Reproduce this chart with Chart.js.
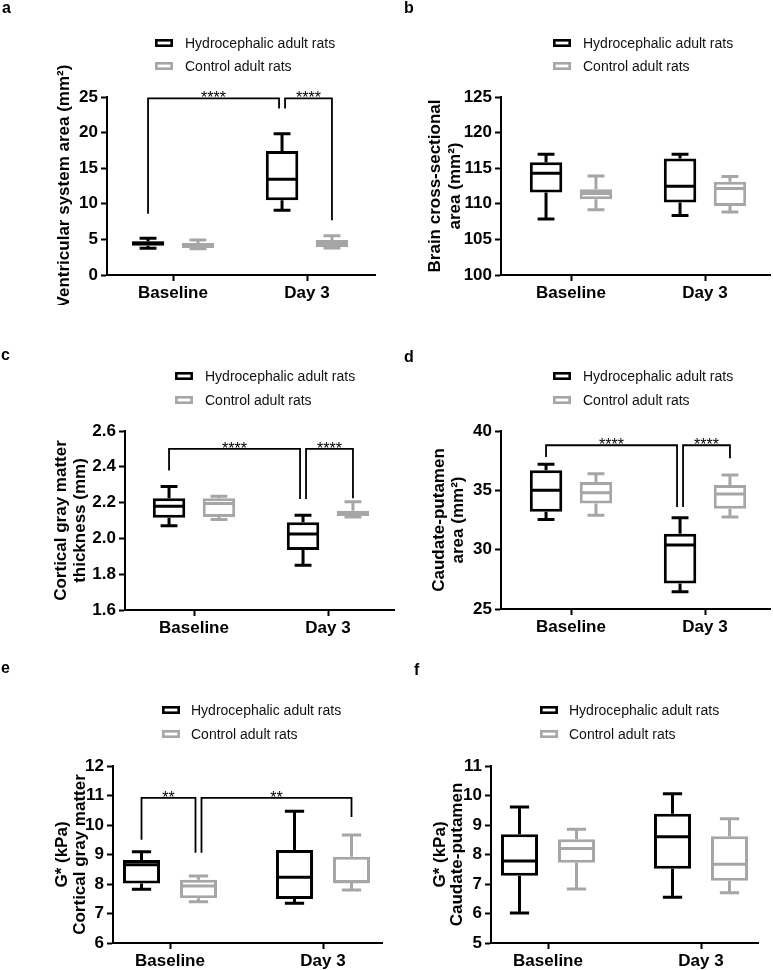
<!DOCTYPE html>
<html><head><meta charset="utf-8">
<script src="https://cdn.jsdelivr.net/npm/chart.js@4.4.1/dist/chart.umd.min.js"></script>
<style>
html,body{margin:0;padding:0;background:#fff;overflow:hidden;width:773px;height:970px;position:relative;}
canvas{position:absolute;}
</style></head><body>
<script>
// ---------------- DATA ----------------
const groups = ['Baseline', 'Day 3'];
const seriesNames = ['Hydrocephalic adult rats', 'Control adult rats'];
// each entry: [min, q1, median, q3, max] for Baseline, Day 3
const aHydro   = [[3.75, 4.1, 4.45, 4.75, 5.15], [9.1, 10.5, 13.45, 17.4, 19.85]];
const aControl = [[3.7, 3.8, 4.15, 4.5, 4.9], [3.8, 3.9, 4.4, 4.9, 5.5]];
const bHydro   = [[107.85, 111.6, 114.3, 115.85, 116.95], [108.35, 110.2, 112.45, 116.35, 116.95]];
const bControl = [[109.15, 110.65, 111.45, 112.05, 113.9], [108.85, 109.7, 112.15, 113.1, 113.85]];
const cHydro   = [[2.07, 2.115, 2.18, 2.225, 2.29], [1.85, 1.935, 2.025, 2.09, 2.13]];
const cControl = [[2.105, 2.12, 2.195, 2.225, 2.235], [2.12, 2.125, 2.14, 2.155, 2.205]];
const dHydro   = [[32.55, 33.2, 35.0, 36.7, 37.2], [26.45, 27.15, 30.4, 31.35, 32.7]];
const dControl = [[32.9, 33.9, 34.8, 35.7, 36.4], [32.75, 33.45, 34.7, 35.45, 36.3]];
const eHydro   = [[7.82, 8.02, 8.65, 8.81, 9.09], [7.35, 7.49, 8.23, 9.15, 10.47]];
const eControl = [[7.4, 7.52, 7.93, 8.14, 8.27], [7.8, 8.03, 8.08, 8.92, 9.66]];
const fHydro   = [[6.02, 7.28, 7.78, 8.69, 9.61], [6.55, 7.52, 8.6, 9.38, 10.06]];
const fControl = [[6.83, 7.72, 8.2, 8.52, 8.86], [6.7, 7.11, 7.67, 8.62, 9.21]];

const aTicks = [0, 5, 10, 15, 20, 25];
const bTicks = [100, 105, 110, 115, 120, 125];
const cTicks = [1.6, 1.8, 2.0, 2.2, 2.4, 2.6];
const dTicks = [25, 30, 35, 40];
const eTicks = [6, 7, 8, 9, 10, 11, 12];
const fTicks = [5, 6, 7, 8, 9, 10, 11];

const aTitle = ['Ventricular system area (mm²)'];
const bTitle = ['Brain cross-sectional', 'area (mm²)'];
const cTitle = ['Cortical gray matter', 'thickness (mm)'];
const dTitle = ['Caudate-putamen', 'area (mm²)'];
const eTitle = ['G* (kPa)', 'Cortical gray matter'];
const fTitle = ['G* (kPa)', 'Caudate-putamen'];

// significance brackets: from/to = [groupIndex, seriesIndex]; top & leg ends in data units
const aBrackets = [
  {from: [0, 0], to: [1, 0], top: 24.8, ends: [8.6, 23.4], label: '****'},
  {from: [1, 0], to: [1, 1], top: 24.8, ends: [23.4, 7.7], label: '****'}
];
const bBrackets = [];
const cBrackets = [
  {from: [0, 0], to: [1, 0], top: 2.5, ends: [2.38, 2.22], label: '****'},
  {from: [1, 0], to: [1, 1], top: 2.5, ends: [2.22, 2.225], label: '****'}
];
const dBrackets = [
  {from: [0, 0], to: [1, 0], top: 38.8, ends: [37.8, 33.6], label: '****'},
  {from: [1, 0], to: [1, 1], top: 38.8, ends: [33.6, 37.7], label: '****'}
];
const eBrackets = [
  {from: [0, 0], to: [0, 1], top: 10.92, ends: [9.5, 9.06], label: '**'},
  {from: [0, 1], to: [1, 1], top: 10.92, ends: [9.06, 10.27], label: '**'}
];
const fBrackets = [];

// ---------------- STYLE / LAYOUT ----------------
const FONT = "'Liberation Sans', Arial, Helvetica, sans-serif";
const COLORS = ['#000000', '#a6a6a6'];

const panels = [
  {letter: 'a', left: 0, top: 0, w: 400, h: 305, axisX: 107, topY: 97, botY: 275, endX: 375, t0: 173, t1: 307,
   titleX: [64], letterPos: [2, 13], legend: {bx: 155, tx: 185, y: [43, 66]},
   series: [aHydro, aControl], ticks: aTicks, title: aTitle, brackets: aBrackets, dec: 0},
  {letter: 'b', left: 386, top: 0, w: 387, h: 305, axisX: 115, topY: 97, botY: 275, endX: 384, t0: 185, t1: 319,
   titleX: [49, 69], letterPos: [18, 13], legend: {bx: 167, tx: 197, y: [43, 66]},
   series: [bHydro, bControl], ticks: bTicks, title: bTitle, brackets: bBrackets, dec: 0},
  {letter: 'c', left: 0, top: 300, w: 400, h: 340, axisX: 125, topY: 131, botY: 310, endX: 394, t0: 194, t1: 328,
   titleX: [61, 80], letterPos: [1, 60], legend: {bx: 175, tx: 205, y: [76, 100]},
   series: [cHydro, cControl], ticks: cTicks, title: cTitle, brackets: cBrackets, dec: 1},
  {letter: 'd', left: 386, top: 300, w: 387, h: 339, axisX: 115, topY: 131, botY: 309, endX: 384, t0: 185, t1: 319,
   titleX: [53, 72], letterPos: [18, 62], legend: {bx: 167, tx: 197, y: [76, 100]},
   series: [dHydro, dControl], ticks: dTicks, title: dTitle, brackets: dBrackets, dec: 0},
  {letter: 'e', left: 0, top: 620, w: 400, h: 353, axisX: 113, topY: 146, botY: 323, endX: 382, t0: 170, t1: 323,
   titleX: [62, 80], letterPos: [1, 53], legend: {bx: 162, tx: 191, y: [90, 114]},
   series: [eHydro, eControl], ticks: eTicks, title: eTitle, brackets: eBrackets, dec: 0},
  {letter: 'f', left: 386, top: 620, w: 387, h: 353, axisX: 105, topY: 146, botY: 323, endX: 372, t0: 162, t1: 315,
   titleX: [54, 71], letterPos: [28, 55], legend: {bx: 154, tx: 183, y: [90, 114]},
   series: [fHydro, fControl], ticks: fTicks, title: fTitle, brackets: fBrackets, dec: 0}
];

// ---------------- PLUGINS ----------------
const boxPlugin = {
  id: 'boxWhiskers',
  afterDatasetsDraw(chart) {
    const ctx = chart.ctx, ys = chart.scales.y;
    chart.data.datasets.forEach((ds, di) => {
      const meta = chart.getDatasetMeta(di);
      meta.data.forEach((el, i) => {
        const s = ds.stats[i];
        const x = el.x, w = el.width, half = w / 2 - 1.5, cap = w * 0.26;
        const py = v => ys.getPixelForValue(v);
        ctx.save();
        ctx.strokeStyle = ds.borderColor;
        ctx.lineWidth = 3;
        ctx.lineCap = 'butt';
        ctx.beginPath();
        ctx.moveTo(x, py(s[3])); ctx.lineTo(x, py(s[4]));
        ctx.moveTo(x, py(s[1])); ctx.lineTo(x, py(s[0]));
        ctx.moveTo(x - cap, py(s[4])); ctx.lineTo(x + cap, py(s[4]));
        ctx.moveTo(x - cap, py(s[0])); ctx.lineTo(x + cap, py(s[0]));
        ctx.moveTo(x - half, py(s[2])); ctx.lineTo(x + half, py(s[2]));
        ctx.stroke();
        ctx.restore();
      });
    });
  }
};

const decorPlugin = {
  id: 'decor',
  afterDraw(chart) {
    const p = chart.options.plugins.decor;
    const ctx = chart.ctx, ys = chart.scales.y, ca = chart.chartArea;
    ctx.save();
    // brackets
    const same = (u, v) => u[0] === v[0] && u[1] === v[1];
    const boxX = (ref) => chart.getDatasetMeta(ref[1]).data[ref[0]].x;
    p.brackets.forEach((b, bi) => {
      let x1 = boxX(b.from), x2 = boxX(b.to);
      if (p.brackets.some((o, oi) => oi !== bi && same(o.from, b.to))) x2 -= 3;
      if (p.brackets.some((o, oi) => oi !== bi && same(o.to, b.from))) x1 += 3;
      const yt = ys.getPixelForValue(b.top);
      ctx.strokeStyle = '#000';
      ctx.lineWidth = 1.8;
      ctx.beginPath();
      ctx.moveTo(x1, ys.getPixelForValue(b.ends[0]));
      ctx.lineTo(x1, yt);
      ctx.lineTo(x2, yt);
      ctx.lineTo(x2, ys.getPixelForValue(b.ends[1]));
      ctx.stroke();
      ctx.fillStyle = '#000';
      ctx.font = '16px ' + FONT;
      ctx.textAlign = 'center';
      ctx.textBaseline = 'alphabetic';
      ctx.fillText(b.label, (x1 + x2) / 2, yt + 5);
    });
    // axis title (rotated)
    ctx.fillStyle = '#000';
    ctx.font = 'bold 17px ' + FONT;
    ctx.textAlign = 'center';
    ctx.textBaseline = 'middle';
    const cy = (ca.top + ca.bottom) / 2;
    p.title.forEach((line, li) => {
      ctx.save();
      ctx.translate(p.titleX[li], cy);
      ctx.rotate(-Math.PI / 2);
      ctx.fillText(line, 0, 0);
      ctx.restore();
    });
    // legend
    ctx.font = '14px ' + FONT;
    ctx.textAlign = 'left';
    ctx.textBaseline = 'middle';
    seriesNames.forEach((name, si) => {
      const y = p.legend.y[si];
      ctx.strokeStyle = COLORS[si];
      ctx.lineWidth = 2.6;
      ctx.strokeRect(p.legend.bx + 1.3, y - 2.7, 15.4, 5.4);
      ctx.fillStyle = '#111';
      ctx.fillText(name, p.legend.tx, y + 1);
    });
    // panel letter
    ctx.font = 'bold 16px ' + FONT;
    ctx.textBaseline = 'alphabetic';
    ctx.fillStyle = '#000';
    ctx.fillText(p.letter, p.letterPos[0], p.letterPos[1]);
    ctx.restore();
  }
};

// ---------------- BUILD CHARTS ----------------
panels.forEach((p) => {
  const cv = document.createElement('canvas');
  cv.width = p.w; cv.height = p.h;
  cv.style.left = p.left + 'px'; cv.style.top = p.top + 'px';
  cv.style.width = p.w + 'px'; cv.style.height = p.h + 'px';
  document.body.appendChild(cv);
  const unit = p.t1 - p.t0;
  const xMin = -(p.t0 - p.axisX) / unit;
  const xMax = 1 + (p.endX - p.t1) / unit;
  const datasets = p.series.map((stats, si) => ({
    label: seriesNames[si],
    data: stats.map((s, gi) => ({x: gi, y: [s[1], s[3]]})),
    stats: stats,
    backgroundColor: '#ffffff',
    borderColor: COLORS[si],
    borderWidth: 3,
    borderSkipped: false,
    categoryPercentage: 0.745,
    barPercentage: 0.65
  }));
  const gridCommon = {display: true, drawOnChartArea: false, drawTicks: true, tickLength: 6, tickWidth: 2, tickColor: '#000', color: '#000', offset: false};
  const borderCommon = {display: true, color: '#000', width: 2};
  const tickFont = {family: FONT, size: 17, weight: 'bold'};
  new Chart(cv, {
    type: 'bar',
    data: {datasets},
    options: {
      responsive: false,
      animation: false,
      devicePixelRatio: 1,
      layout: {padding: {top: p.topY, right: p.w - p.endX, left: 0, bottom: 0}},
      plugins: {
        legend: {display: false},
        tooltip: {enabled: false},
        decor: {brackets: p.brackets, title: p.title, titleX: p.titleX, legend: p.legend, letter: p.letter, letterPos: p.letterPos}
      },
      scales: {
        x: {
          type: 'linear', min: xMin, max: xMax, offset: false,
          grid: gridCommon, border: borderCommon,
          afterBuildTicks: (s) => { s.ticks = groups.map((g, i) => ({value: i})); },
          afterFit: (s) => { s.height = 30; },
          ticks: {color: '#000', font: tickFont, padding: 2, maxRotation: 0, autoSkip: false, callback: (v) => groups[v]}
        },
        y: {
          type: 'linear', min: p.ticks[0], max: p.ticks[p.ticks.length - 1], offset: false,
          grid: gridCommon, border: borderCommon,
          afterBuildTicks: (s) => { s.ticks = p.ticks.map(v => ({value: v})); },
          afterFit: (s) => { s.width = p.axisX; },
          ticks: {color: '#000', font: tickFont, padding: 3, autoSkip: false, callback: (v) => Number(v).toFixed(p.dec)}
        }
      }
    },
    plugins: [boxPlugin, decorPlugin]
  });
});
</script>
</body></html>
